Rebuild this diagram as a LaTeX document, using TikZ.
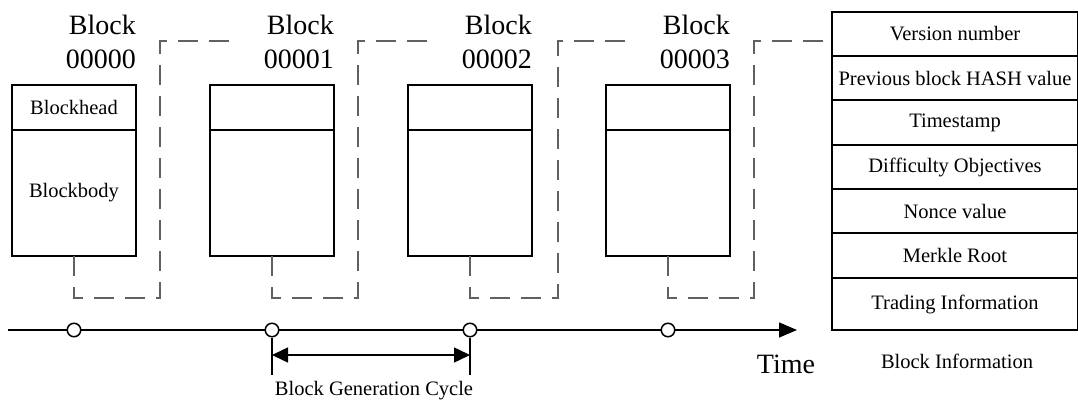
\documentclass[tikz,border=0pt]{standalone}
\usepackage{fontspec}
\setmainfont{Liberation Serif}
\usetikzlibrary{arrows.meta}
\begin{document}
\begin{tikzpicture}[x=1pt,y=-1pt,
  cell/.style={draw=black, line width=1.6pt, rectangle, outer sep=0pt, inner sep=0pt,
    minimum width=124pt, anchor=north west, font=\fontsize{20.5pt}{24pt}\selectfont},
  inforow/.style={draw=black, line width=1.6pt, rectangle, outer sep=0pt, inner sep=0pt,
    minimum width=246pt, anchor=north west, font=\fontsize{20.5pt}{24pt}\selectfont},
  biglabel/.style={inner sep=0pt, align=right, anchor=north east,
    font=\fontsize{28pt}{34pt}\selectfont},
  smalltext/.style={inner sep=0pt, font=\fontsize{20.5pt}{24pt}\selectfont},
  link/.style={draw=black!62, line width=2.2pt, dash pattern=on 20pt off 11pt},
  axisline/.style={draw=black, line width=1.5pt},
  dot/.style={circle, draw=black, fill=white, line width=1.5pt, minimum size=13.5pt, inner sep=0pt},
]
\useasboundingbox (0,0) rectangle (1078,401);

% blocks: head and body cells with their labels
\foreach \i/\headtxt/\bodytxt in {0/Blockhead/Blockbody, 1//, 2//, 3//} {
  \pgfmathsetmacro\xl{12+198*\i}
  \node[cell, minimum height=45pt] (head\i) at (\xl,85) {\headtxt};
  \node[cell, minimum height=126pt] (body\i) at (\xl,130) {\bodytxt};
  \node[biglabel] (lab\i) at (\xl+124,14.5) {Block\\0000\i};
}

% ends of the hash links
\foreach \i in {0,1,2} {
  \coordinate (end\i) at (74+198*\i+163,41);
}
\coordinate (end3) at (832,41);

% dashed hash links from each block to the next
\foreach \i/\dx in {0/86, 1/86, 2/88, 3/86} {
  \draw[link] (body\i.south) -- ++(0,42) -- ++(\dx,0) -- ++(0,-257) -- (end\i);
}

% block information table
\foreach \n/\y/\h/\t in {1/12/44/Version number, 2/56/44/Previous block HASH value,
    3/100/45/Timestamp, 4/145/44/Difficulty Objectives, 5/189/44/Nonce value,
    6/233/45/Merkle Root, 7/278/52/Trading Information} {
  \node[inforow, minimum height=\h pt] (row\n) at (832,\y) {\t};
}
\node[smalltext, anchor=base] (info) at (957,368) {Block Information};

% time axis
\coordinate (axstart) at (8,330);
\coordinate (axend) at (797,330);
\draw[axisline, -{Triangle[length=18pt,width=15pt]}] (axstart) -- (axend);
\foreach \i in {0,...,3} {
  \node[dot] (t\i) at (74+198*\i,330) {};
}
\node[inner sep=0pt, anchor=base, font=\fontsize{28pt}{34pt}\selectfont] (time) at (786,373) {Time};

% block generation cycle
\coordinate (tick1) at (272,375);
\coordinate (tick2) at (470,375);
\draw[axisline] (t1.south) -- (tick1);
\draw[axisline] (t2.south) -- (tick2);
\coordinate (cyc1) at (272,355);
\coordinate (cyc2) at (470,355);
\draw[axisline, {Triangle[length=16pt,width=15pt]}-{Triangle[length=16pt,width=15pt]}] (cyc1) -- (cyc2);
\node[smalltext, anchor=base] (cycle) at (374,395) {Block Generation Cycle};
\end{tikzpicture}
\end{document}
